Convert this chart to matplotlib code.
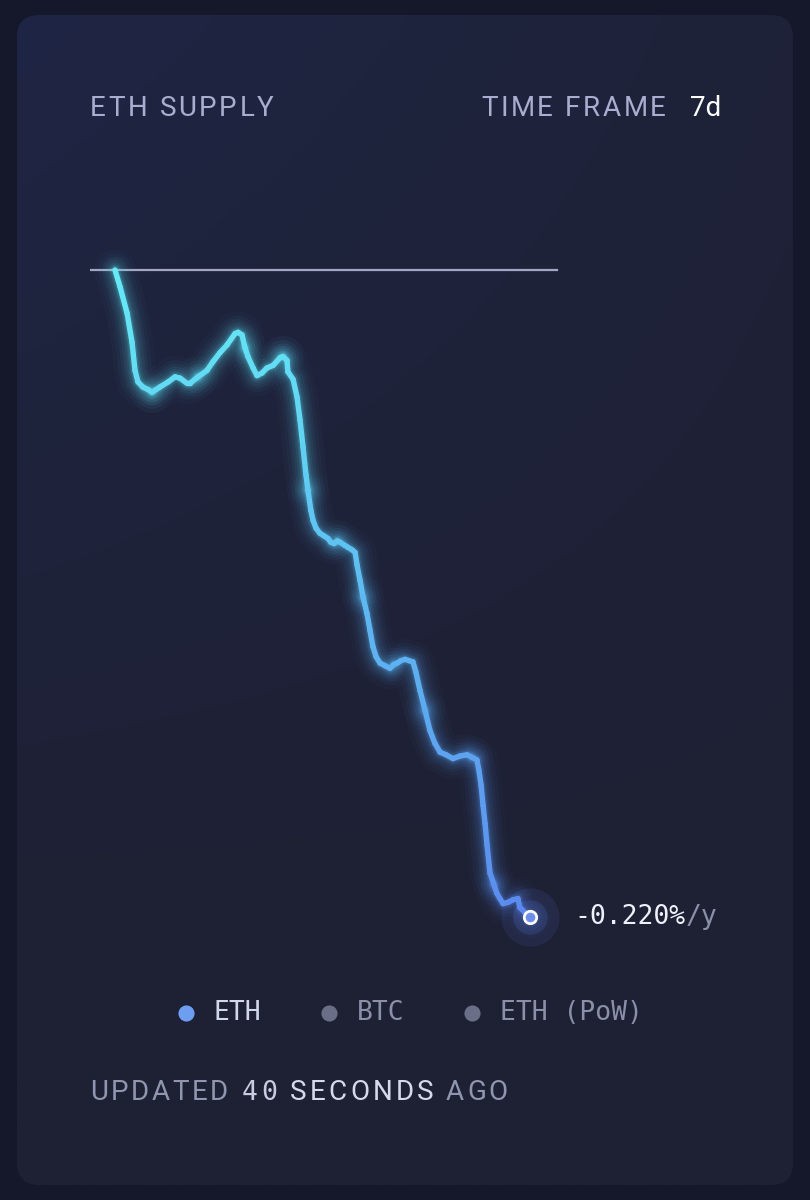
import numpy as np
import matplotlib.pyplot as plt
from matplotlib.collections import LineCollection
from matplotlib.patches import FancyBboxPatch
from matplotlib.colors import LinearSegmentedColormap

# ETH supply change over the 7 day time frame (hours since start, ETH)
hours = [0, 2.0, 4.9, 6.9, 8.1, 9.3, 11.3, 13.4, 15.0, 16.6, 18.2, 21.5, 24.3, 26.3,
         29.1, 30.4, 33.6, 37.2, 39.7, 42.5, 45.3, 48.6, 49.8, 51.4, 52.6, 53.8, 55.9,
         57.5, 59.5, 61.5, 64.0, 66.8, 68.0, 69.6, 70.0, 72.1, 73.7, 74.9, 76.1, 77.3,
         78.1, 79.3, 80.2, 81.4, 83.0, 84.6, 86.2, 87.4, 88.7, 89.9, 91.1, 92.7, 94.3,
         96.0, 97.2, 98.0, 99.2, 100.4, 102.0, 103.2, 104.4, 105.7, 107.3, 109.3, 111.3,
         112.9, 114.2, 115.8, 117.4, 119.0, 120.6, 121.8, 123.4, 125.5, 127.5, 129.5,
         131.6, 134.0, 136.8, 139.7, 142.5, 144.5, 146.5, 147.3, 148.2, 149.0, 149.8,
         150.6, 151.8, 153.4, 154.6, 155.8, 157.1, 159.1, 161.1, 163.1, 163.9, 166.0, 168.0]
supply_change = [0, -130, -340, -570, -790, -880, -920, -940, -960, -940, -920, -880, -840,
                 -850, -890, -890, -840, -790, -720, -650, -590, -500, -490, -510, -610,
                 -680, -770, -830, -810, -770, -750, -690, -680, -710, -800, -860, -1000,
                 -1180, -1390, -1610, -1730, -1890, -1970, -2030, -2070, -2090, -2110,
                 -2140, -2150, -2130, -2140, -2160, -2180, -2200, -2220, -2320, -2440,
                 -2570, -2700, -2830, -2960, -3040, -3090, -3110, -3130, -3100, -3090,
                 -3070, -3060, -3070, -3080, -3160, -3300, -3460, -3620, -3720, -3790,
                 -3810, -3840, -3820, -3810, -3830, -3850, -3930, -4050, -4210, -4350,
                 -4520, -4740, -4830, -4900, -4940, -4980, -4970, -4950, -4940, -5010,
                 -5050, -5085]

title = 'ETH SUPPLY'
frame_label = 'TIME FRAME'
time_frame = '7d'
rate_value = '-0.220%'
rate_unit = '/y'
legend_names = ['ETH', 'BTC', 'ETH (PoW)']
legend_colors = ['#6d9ef2', '#6a6e86', '#6a6e86']
legend_text_colors = ['#d3d7ec', '#8b8fa9', '#8b8fa9']
# text, colour, font kind, left x in pixels, letter spacing
updated_parts = [('UPDATED', '#9095b0', 'sans', 90, 2.6), ('40', '#c9cce0', 'mono', 242, 3.5),
                 ('SECONDS', '#d6d9ea', 'sans', 290, 3.2), ('AGO', '#9095b0', 'sans', 446, 2.8)]

W, H = 810, 1200
fig = plt.figure(figsize=(W / 100, H / 100), dpi=100)
fig.patch.set_facecolor('#15172a')

# background axes in pixel units
bg = fig.add_axes([0, 0, 1, 1])
bg.set_xlim(0, W)
bg.set_ylim(H, 0)
bg.axis('off')

card = FancyBboxPatch((17, 15), 776, 1170, boxstyle='round,pad=0,rounding_size=22',
                      fc='none', ec='none')
bg.add_patch(card)
u = np.linspace(0, 1, 80)[None, :]
v = np.linspace(0, 1, 120)[:, None]
c_tl = np.array([31, 37, 68]) / 255
c_tr = np.array([31, 34, 56]) / 255
c_b = np.array([30, 33, 52]) / 255
top = c_tl[None, None, :] * (1 - u[..., None]) + c_tr[None, None, :] * u[..., None]
t = np.clip(v * 1.3, 0, 1)[..., None]
grad = top * (1 - t) + c_b[None, None, :] * t
im = bg.imshow(grad, extent=(17, 793, 1185, 15), aspect='auto', interpolation='bicubic')
im.set_clip_path(card)
bg.set_xlim(0, W)
bg.set_ylim(H, 0)

renderer = fig.canvas.get_renderer()


def text_width(s, **kw):
    tt = bg.text(0, 0, s + '|', **kw)
    t2 = bg.text(0, 0, '|', **kw)
    w = tt.get_window_extent(renderer=renderer).width - t2.get_window_extent(renderer=renderer).width
    tt.remove()
    t2.remove()
    return w


def tracked(x, y, s, track, **kw):
    for i, ch in enumerate(s):
        if ch == ' ':
            continue
        xi = x + text_width(s[:i], **kw) + i * track
        bg.text(xi, y, ch, va='center', ha='left', **kw)
    return x + text_width(s, **kw) + len(s) * track


head_kw = dict(family='Roboto', fontweight='normal', fontsize=20, color='#a9aed0')
tracked(90, 108, title, 2.6, **head_kw)
tracked(481, 108, frame_label, 2.6, **head_kw)
bg.text(690, 108, time_frame, va='center', ha='left', family='Roboto', fontsize=20,
        color='#ffffff')

# chart
ax = fig.add_axes([90 / W, 240 / H, 470 / W, 760 / H])
ax.patch.set_alpha(0)
ax.axis('off')
ax.set_xlim(-10.12, 180.14)
ax.set_ylim(-5423, 550)
ax.axhline(0, xmin=0, xmax=0.994, color='#a3a7c3', lw=1.6, zorder=1)

x = np.array(hours)
y = np.array(supply_change)
cmap = LinearSegmentedColormap.from_list('eth', ['#5a8cf0', '#5cbcf2', '#62edf5'])
ymin, ymax = y.min(), y.max()

# glow
n_chunks = 12
idx = np.linspace(0, len(x) - 1, n_chunks + 1).astype(int)
for lw, a in [(30, 0.025), (24, 0.035), (19, 0.05), (15, 0.065), (11, 0.08), (8, 0.11),
              (6, 0.15)]:
    for k in range(n_chunks):
        s0, s1 = idx[k], idx[k + 1] + 1
        col = cmap((y[s0:s1].mean() - ymin) / (ymax - ymin))
        ax.plot(x[s0:s1], y[s0:s1], color=col, alpha=a, lw=lw, solid_capstyle='round',
                solid_joinstyle='round', zorder=2)

pts = np.column_stack([x, y]).reshape(-1, 1, 2)
segs = np.concatenate([pts[:-1], pts[1:]], axis=1)
mid = (y[:-1] + y[1:]) / 2
lc = LineCollection(segs, colors=cmap((mid - ymin) / (ymax - ymin)), linewidths=3.9,
                    capstyle='round', zorder=3)
ax.add_collection(lc)

# end marker
ax.scatter(x[-1], y[-1], s=1750, color='#5b7ef0', alpha=0.10, lw=0, zorder=4, clip_on=False)
ax.scatter(x[-1], y[-1], s=620, color='#5b7ef0', alpha=0.16, lw=0, zorder=4, clip_on=False)
ax.scatter(x[-1], y[-1], s=80, color='#6b8ef0', edgecolor='white', lw=2, zorder=5,
           clip_on=False)

mono_kw = dict(family='DejaVu Sans Mono', fontsize=19)
lab = ax.annotate(rate_value, xy=(x[-1], y[-1]), xytext=(32, 0), textcoords='offset points',
                  va='center', ha='left', color='#eef0fa', **mono_kw)
wpts = lab.get_window_extent(renderer=renderer).width * 72 / 100
ax.annotate(rate_unit, xy=(x[-1], y[-1]), xytext=(32 + wpts, 0), textcoords='offset points',
            va='center', ha='left', color='#8b8fa9', **mono_kw)

# legend
for i, (name, dc, tc) in enumerate(zip(legend_names, legend_colors, legend_text_colors)):
    lx = 186 + i * 143
    bg.scatter(lx, 1013, s=135, color=dc, lw=0)
    bg.text(lx + 28, 1013, name, va='center', ha='left', color=tc, **mono_kw)

# updated line
for s, col, kind, px, tr in updated_parts:
    if kind == 'mono':
        tracked(px, 1093, s, tr, family='DejaVu Sans Mono', fontsize=19, color=col)
    else:
        tracked(px, 1093, s, tr, family='Roboto', fontweight='normal', fontsize=20,
                color=col)

fig.savefig('out.png', dpi=100, facecolor=fig.get_facecolor())
